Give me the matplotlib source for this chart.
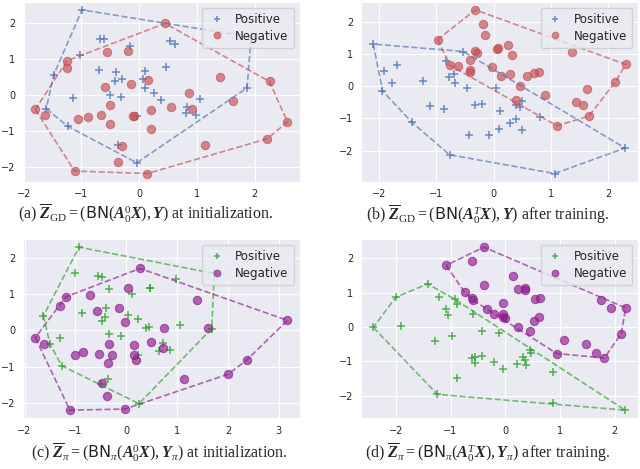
import numpy as np
import matplotlib
matplotlib.use("Agg")
import matplotlib.pyplot as plt
import seaborn as sns

sns.set_style("darkgrid")
plt.rcParams['font.family'] = ['DejaVu Sans']
plt.rcParams['mathtext.fontset'] = 'custom'
plt.rcParams['mathtext.rm'] = 'Liberation Serif'
plt.rcParams['mathtext.it'] = 'Liberation Serif:italic'
plt.rcParams['mathtext.bf'] = 'Liberation Serif:bold'
plt.rcParams['mathtext.bfit'] = 'Liberation Serif:italic:bold'
plt.rcParams['mathtext.sf'] = 'DejaVu Sans'

# ---------------- data ----------------
a_pos_x = [-0.99, 1.94, 1.87, -0.04, -1.24, -1.61, -1.48, -1.02, -0.67, -0.61, -0.16, 0.53, 0.62, 0.47,
           -0.70, -0.40, -0.42, -0.30, 0.11, 0.07, 0.11, 0.25, -0.50, -0.32, -1.15, 0.38, 1.06, 0.83,
           0.82, 0.98, -0.04, -0.37]
a_pos_y = [2.38, 1.62, 0.20, -1.89, -0.87, -0.38, 0.57, 1.13, 1.58, 1.56, 1.38, 1.52, 1.43, 0.78,
           0.69, 0.64, 0.39, 0.44, 0.66, 0.45, 0.20, 0.06, -0.01, -0.06, -0.08, -0.15, -0.11, -0.33,
           -0.49, -0.55, -0.58, -1.40]
a_neg_x = [0.45, -1.25, -1.25, -0.56, -0.20, 1.41, 2.26, 2.57, 2.22, 1.15, 0.14, -1.12, -1.80, -1.64,
           -1.06, -0.88, -0.66, -0.59, -0.50, -0.14, 0.15, -0.51, -0.11, -0.09, 0.20, 0.56, 0.86, 0.91,
           1.62, 0.20, -0.30, -0.36]
a_neg_y = [2.00, 0.96, 0.75, 1.21, 1.24, 0.50, 0.38, -0.75, -1.22, -1.40, -2.19, -2.12, -0.40, -0.56,
           -0.68, -0.61, -0.55, 0.22, -0.29, 0.31, 0.41, -0.80, -0.58, -0.58, -0.41, -0.33, 0.07, -0.38,
           -0.17, -0.94, -1.42, -1.86]

b_pos_x = [-2.10, -0.53, 2.29, 1.06, -0.77, -1.43, -1.94, -1.92, -1.68, -1.77, -1.24, -1.12, -0.86,
           -0.83, -0.78, -0.69, -0.68, -0.46, -0.32, -0.21, 0.04, 0.10, -0.43, -0.08, 0.09, 0.28, 0.39,
           0.39, 0.45, 0.50, 0.50, 0.81]
b_pos_y = [1.30, 1.07, -1.92, -2.71, -2.13, -1.12, -0.15, 0.46, 0.65, 0.08, 0.15, -0.61, -0.70,
           0.78, 0.28, 0.36, 0.09, -0.06, -0.59, -0.55, -0.05, -0.77, -1.51, -1.51, -1.32, -1.13, -1.01,
           -0.59, -0.65, -0.47, -1.36, -0.95]
b_neg_x = [-0.32, -0.98, 2.30, 1.66, 1.10, -0.76, -0.18, -0.16, -0.32, -0.29, -0.41, -0.42, -0.42,
           -0.62, -0.03, 0.06, 0.07, 0.24, 0.31, 0.12, 0.28, 0.45, 0.58, 0.70, 0.79, 0.89, 0.38, 1.36,
           1.43, 1.55, 1.63, 2.12]
b_neg_y = [2.36, 1.44, 0.67, -0.93, -1.23, 0.64, 1.93, 1.57, 1.10, 1.03, 0.80, 0.51, 0.43,
           0.62, 0.58, 1.15, 1.18, 1.27, 0.96, 0.31, 0.36, 0.00, 0.31, 0.39, 0.43, -0.29, -0.42, 1.05,
           -0.49, -0.59, -0.09, 0.13]

c_pos_x = [-0.93, -1.63, -1.50, -1.27, 0.25, 1.68, 1.73, -1.00, -0.55, -0.48, 0.98, -0.34, 0.46, 0.47,
           0.12, -0.87, -0.40, -0.42, -0.47, 0.03, 0.24, 0.38, 0.44, 1.06, -1.30, -0.34, -0.11, 0.73,
           0.64, 0.86, 0.24, -0.36, -0.49]
c_pos_y = [2.31, 0.41, -0.38, -0.98, -2.03, 0.05, 1.58, 1.58, 1.51, 1.47, 1.44, 1.14, 1.19, 1.17,
           1.02, 0.49, 0.62, 0.37, 0.26, 0.44, 0.33, 0.07, 0.10, 0.14, -0.21, -0.11, -0.16, -0.34,
           -0.58, -0.54, -0.68, -1.36, -1.48]
c_neg_x = [0.27, -1.19, -1.30, -1.79, -1.62, -1.11, -0.03, 2.01, 2.37, 3.17, -0.72, 0.03, -0.15, -0.57,
           -0.02, 0.75, 1.40, 1.60, -1.01, -0.85, -0.53, -0.34, -0.28, -0.35, 0.15, 0.48, 0.73, 0.16,
           0.20, 1.14, -0.47, -0.37]
c_neg_y = [1.72, 0.93, 0.67, -0.20, -0.38, -2.21, -2.18, -1.21, -0.82, 0.28, 0.99, 1.17, 0.62, 0.53,
           0.24, 0.06, 0.85, 0.07, -0.68, -0.61, -0.66, -0.38, -0.68, -0.91, -0.40, -0.32, -0.49, -0.68,
           -0.81, -1.36, -1.45, -1.82]

d_pos_x = [-2.41, -2.00, -1.42, -1.24, 0.88, 2.19, -1.91, -1.21, -0.92, -0.89, -1.08, -1.05, -0.58,
           -1.29, -0.97, -0.42, -0.11, -0.61, -0.56, -0.56, -0.42, -0.21, -0.05, -0.88, 0.22, 0.33,
           0.36, 0.38, 0.45, 0.47, 0.88]
d_pos_y = [-0.01, 0.87, 1.26, -1.96, -2.22, -2.42, 0.02, 0.89, 0.81, 0.68, 0.52, 0.34, 0.38,
           -0.40, -0.25, -0.12, -0.16, -0.90, -0.88, -1.04, -0.83, -1.02, -1.23, -1.49, -1.07, -0.88,
           -0.97, -1.09, -0.66, -0.75, -1.32]
d_neg_x = [-0.39, -1.08, -0.61, -0.74, -0.61, -0.58, -0.38, -0.33, -0.20, -0.04, -0.04, -0.04, -0.01,
           0.14, 0.23, 0.36, 0.36, 0.55, 0.64, 0.61, 0.53, 0.23, 0.45, 1.08, 0.94, 1.48, 1.65, 1.81,
           1.74, 1.93, 2.20, 2.12]
d_neg_y = [2.33, 1.80, 1.92, 1.01, 0.85, 0.78, 1.24, 0.52, 0.39, 0.70, 0.38, 0.28, 0.26,
           1.50, 1.11, 1.15, 1.08, 0.81, 0.84, 0.28, 0.19, 0.00, -0.11, -0.37, -0.77, -0.49, -0.75, -0.90,
           0.80, 0.55, 0.56, -0.19]

labels = ["Positive", "Negative"]
captions = [
    r"(a) $\overline{\boldsymbol{Z}}_{\mathrm{GD}} = (\mathsf{BN}(\boldsymbol{A}_0^0\boldsymbol{X}), \boldsymbol{Y})$ at initialization.",
    r"(b) $\overline{\boldsymbol{Z}}_{\mathrm{GD}} = (\mathsf{BN}(\boldsymbol{A}_0^T\boldsymbol{X}), \boldsymbol{Y})$ after training.",
    r"(c) $\overline{\boldsymbol{Z}}_{\pi} = (\mathsf{BN}_{\pi}(\boldsymbol{A}_0^0\boldsymbol{X}), \boldsymbol{Y}_{\pi})$ at initialization.",
    r"(d) $\overline{\boldsymbol{Z}}_{\pi} = (\mathsf{BN}_{\pi}(\boldsymbol{A}_0^T\boldsymbol{X}), \boldsymbol{Y}_{\pi})$ after training.",
]


def hull(xs, ys):
    pts = sorted(set(zip(xs, ys)))
    def cross(o, a, b):
        return (a[0]-o[0])*(b[1]-o[1]) - (a[1]-o[1])*(b[0]-o[0])
    lower, upper = [], []
    for p in pts:
        while len(lower) >= 2 and cross(lower[-2], lower[-1], p) <= 0:
            lower.pop()
        lower.append(p)
    for p in reversed(pts):
        while len(upper) >= 2 and cross(upper[-2], upper[-1], p) <= 0:
            upper.pop()
        upper.append(p)
    h = lower[:-1] + upper[:-1]
    h.append(h[0])
    return [p[0] for p in h], [p[1] for p in h]


fig = plt.figure(figsize=(6.4, 4.69), dpi=100)
W, H = 640.0, 469.0
boxes = [(22.7, 1.7, 300.0, 181.7), (360.7, 1.7, 638.3, 181.7),
         (22.7, 239.0, 300.0, 418.3), (360.7, 239.0, 638.3, 418.3)]
panels = [(a_pos_x, a_pos_y, a_neg_x, a_neg_y, '#4C72B0', '#C44E52'),
          (b_pos_x, b_pos_y, b_neg_x, b_neg_y, '#4C72B0', '#C44E52'),
          (c_pos_x, c_pos_y, c_neg_x, c_neg_y, '#2ca02c', '#8e1a8e'),
          (d_pos_x, d_pos_y, d_neg_x, d_neg_y, '#2ca02c', '#8e1a8e')]
cap_pos = [(146, 214), (488, 215), (159, 453), (487, 453)]

for i, (box, pan) in enumerate(zip(boxes, panels)):
    l, t, r, b = box
    ax = fig.add_axes([l/W, 1 - b/H, (r-l)/W, (b-t)/H])
    px, py, nx, ny, cp, cn = pan
    ax.plot(px, py, '+', color=cp, alpha=0.8, ms=6, mew=1.1, label=labels[0])
    ax.plot(nx, ny, 'o', color=cn, alpha=0.65, ms=6, mew=0.8, label=labels[1])
    hx, hy = hull(px, py)
    ax.plot(hx, hy, '--', color=cp, alpha=0.65, lw=1.2)
    hx, hy = hull(nx, ny)
    ax.plot(hx, hy, '--', color=cn, alpha=0.65, lw=1.2)
    ax.tick_params(labelsize=7, pad=2, colors='#262626')
    ax.legend(loc='upper right', fontsize=8.6, handletextpad=0.8, borderpad=0.45,
              labelspacing=0.3, handlelength=1.5, markerscale=0.8)
    cx, cy = cap_pos[i]
    fig.text(cx/W, 1 - cy/H, captions[i], ha='center', va='center', fontsize=11.5,
             family='Liberation Serif')

fig.savefig("out.png", dpi=100)
